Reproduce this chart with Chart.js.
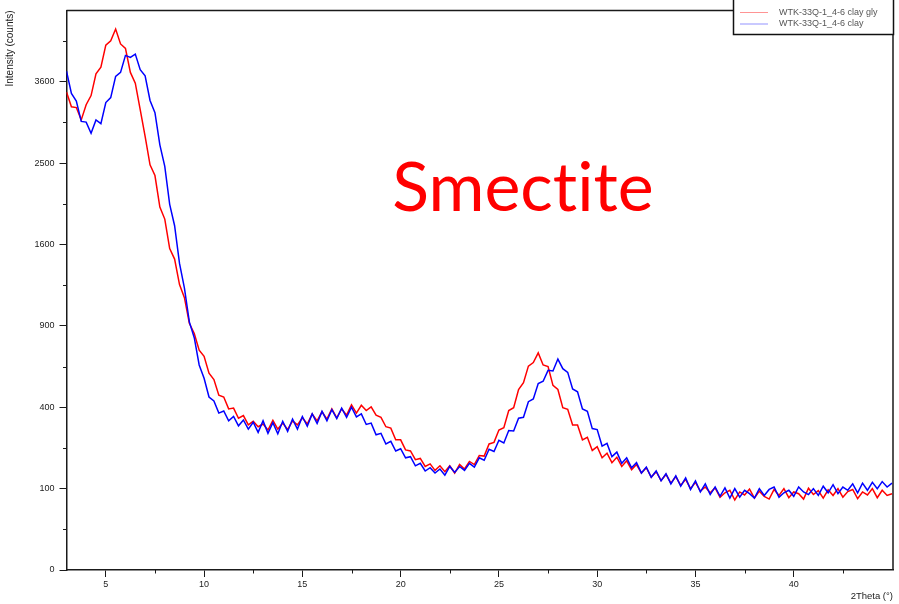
<!DOCTYPE html>
<html><head><meta charset="utf-8">
<script src="https://cdn.jsdelivr.net/npm/chart.js@4/dist/chart.umd.min.js"></script>
<style>
html,body{margin:0;padding:0;background:#fff;}
#wrap{position:relative;width:899px;height:604px;}
#note{position:absolute;left:323px;top:151px;width:400px;text-align:center;font-family:Lato,'Open Sans',sans-serif;font-size:68px;line-height:68px;color:#ff0000;font-variant-ligatures:none;font-feature-settings:"liga" 0,"dlig" 0;white-space:nowrap;pointer-events:none;}
</style>
</head><body><div id="wrap"><canvas id="c" width="899" height="604"></canvas><div id="note"></div></div>
<script>
// ---- data ----
const twoTheta = [
3.00,3.25,3.50,3.75, 4.00,4.25,4.50,4.75, 5.00,5.25,5.50,5.75, 6.00,6.25,6.50,6.75,
7.00,7.25,7.50,7.75, 8.00,8.25,8.50,8.75, 9.00,9.25,9.50,9.75, 10.00,10.25,10.50,10.75,
11.00,11.25,11.50,11.75, 12.00,12.25,12.50,12.75, 13.00,13.25,13.50,13.75, 14.00,14.25,14.50,14.75,
15.00,15.25,15.50,15.75, 16.00,16.25,16.50,16.75, 17.00,17.25,17.50,17.75, 18.00,18.25,18.50,18.75,
19.00,19.25,19.50,19.75, 20.00,20.25,20.50,20.75, 21.00,21.25,21.50,21.75, 22.00,22.25,22.50,22.75,
23.00,23.25,23.50,23.75, 24.00,24.25,24.50,24.75, 25.00,25.25,25.50,25.75, 26.00,26.25,26.50,26.75,
27.00,27.25,27.50,27.75, 28.00,28.25,28.50,28.75, 29.00,29.25,29.50,29.75, 30.00,30.25,30.50,30.75,
31.00,31.25,31.50,31.75, 32.00,32.25,32.50,32.75, 33.00,33.25,33.50,33.75, 34.00,34.25,34.50,34.75,
35.00,35.25,35.50,35.75, 36.00,36.25,36.50,36.75, 37.00,37.25,37.50,37.75, 38.00,38.25,38.50,38.75,
39.00,39.25,39.50,39.75, 40.00,40.25,40.50,40.75, 41.00,41.25,41.50,41.75, 42.00,42.25,42.50,42.75,
43.00,43.25,43.50,43.75, 44.00,44.25,44.50,44.75, 45.00
];
const glyCounts = [
3450,3240,3230,3060, 3270,3400,3720,3820, 4160,4230,4420,4180, 4110,3740,3580,3200,
2840,2480,2350,1990, 1860,1560,1460,1230, 1120,920,845,730, 690,585,548,462,
452,392,396,348, 360,318,334,310, 322,296,338,300, 326,298,336,318,
350,322,368,336, 378,344,392,350, 392,362,412,372, 410,384,402,362,
352,310,304,256, 256,218,214,184, 188,162,170,150, 164,146,164,142,
168,154,178,168, 198,196,240,246, 296,306,384,398, 492,530,628,650,
712,635,625,515, 492,398,390,318, 318,256,266,216, 230,190,206,174,
192,162,180,152, 168,142,158,130, 146,121,138,114, 132,108,124,100,
116,94,104,90, 102,80,90,96, 74,92,85,99, 78,94,82,76,
98,84,100,79, 92,88,76,101, 86,95,78,97, 84,100,80,93,
98,77,92,85, 100,79,96,84, 88
];
const clayCounts = [
3760,3430,3320,3040, 3030,2880,3060,3010, 3300,3370,3680,3740, 4000,3970,4020,3780,
3690,3330,3160,2730, 2460,2020,1790,1420, 1200,930,815,635, 555,452,432,372,
382,336,356,314, 340,300,330,286, 336,282,328,280, 334,290,344,300,
356,312,368,324, 380,336,388,346, 396,352,400,354, 368,320,326,276,
282,240,250,214, 222,190,194,164, 172,148,158,142, 154,136,162,144,
162,150,172,160, 190,182,220,212, 254,244,294,292, 348,352,428,442,
525,538,602,598, 672,612,590,495, 480,392,380,302, 298,232,242,194,
210,172,190,158, 174,142,160,130, 148,120,140,112, 134,106,128,98,
120,92,112,86, 104,82,102,78, 100,80,96,88, 78,100,84,98,
104,80,90,96, 82,104,92,86, 100,84,106,90, 110,88,104,96,
112,90,114,96, 116,100,118,104, 114
];
const seriesLabels = ['WTK-33Q-1_4-6 clay gly', 'WTK-33Q-1_4-6 clay'];
const xTickValues = [5, 10, 15, 20, 25, 30, 35, 40];
const xMinorTicks = [7.5, 12.5, 17.5, 22.5, 27.5, 32.5, 37.5, 42.5];
const yTickValues = [0, 100, 400, 900, 1600, 2500, 3600];
const yMinorTicks = [25, 225, 625, 1225, 2025, 3025, 4225];
const annotationText = 'Smectite';

document.getElementById('note').textContent = annotationText;

// ---- square-root scale ----
class SqrtScale extends Chart.Scale {
  determineDataLimits() {
    const mm = this.getMinMax(true);
    this.min = (this.options.min !== undefined) ? this.options.min : mm.min;
    this.max = (this.options.max !== undefined) ? this.options.max : mm.max;
  }
  buildTicks() { return yTickValues.map(v => ({ value: v })); }
  getLabelForValue(v) { return String(v); }
  configure() {
    super.configure();
    this._s0 = Math.sqrt(this.min);
    this._sr = Math.sqrt(this.max) - this._s0;
  }
  getPixelForValue(v) {
    if (v === undefined || v === null || isNaN(v)) return NaN;
    return this.getPixelForDecimal((Math.sqrt(Math.max(v, 0)) - this._s0) / this._sr);
  }
  getValueForPixel(p) {
    const s = this._s0 + this.getDecimalForPixel(p) * this._sr;
    return s * s;
  }
}
SqrtScale.id = 'sqrt';
SqrtScale.defaults = {};
Chart.register(SqrtScale);

const FONT = "'Liberation Sans', Arial, sans-serif";

const extrasPlugin = {
  id: 'extras',
  afterDraw(chart) {
    const ctx = chart.ctx, a = chart.chartArea;
    const xs = chart.scales.x, ys = chart.scales.y;
    ctx.save();
    ctx.strokeStyle = '#1a1a1a'; ctx.lineWidth = 1.5;
    ctx.beginPath();
    ctx.moveTo(a.left, a.top); ctx.lineTo(a.right, a.top); ctx.lineTo(a.right, a.bottom);
    ctx.stroke();
    ctx.lineWidth = 1;
    ctx.beginPath();
    xMinorTicks.forEach(v => { const px = Math.round(xs.getPixelForValue(v)) + 0.5; ctx.moveTo(px, a.bottom); ctx.lineTo(px, a.bottom + 3.5); });
    yMinorTicks.forEach(v => { const py = Math.round(ys.getPixelForValue(v)) + 0.5; ctx.moveTo(a.left, py); ctx.lineTo(a.left - 3.5, py); });
    ctx.stroke();
    const bx = 733.5, by = -2, bw = 160, bh = 36.5;
    ctx.fillStyle = '#ffffff'; ctx.fillRect(bx, by, bw, bh);
    ctx.strokeStyle = '#111'; ctx.lineWidth = 1.5; ctx.strokeRect(bx, by, bw, bh);
    ctx.font = '9px ' + FONT; ctx.textAlign = 'left'; ctx.textBaseline = 'middle';
    chart.data.datasets.forEach((ds, i) => {
      const y = 12.5 + i * 11.5;
      ctx.strokeStyle = ds.legendColor; ctx.lineWidth = 1;
      ctx.beginPath(); ctx.moveTo(740, y); ctx.lineTo(768, y); ctx.stroke();
      ctx.fillStyle = '#555'; ctx.fillText(ds.label, 779, y);
    });
    ctx.restore();
  }
};

const toPoints = arr => twoTheta.map((x, i) => ({ x: x, y: arr[i] }));

new Chart(document.getElementById('c'), {
  type: 'line',
  data: {
    datasets: [
      { label: seriesLabels[0], data: toPoints(glyCounts), borderColor: '#ff0000', legendColor: 'rgba(255,60,60,0.55)', borderWidth: 1.5, pointRadius: 0, tension: 0, order: 1 },
      { label: seriesLabels[1], data: toPoints(clayCounts), borderColor: '#0000ff', legendColor: 'rgba(60,60,255,0.55)', borderWidth: 1.5, pointRadius: 0, tension: 0, order: 0 }
    ]
  },
  options: {
    responsive: false, animation: false, devicePixelRatio: 1,
    layout: { padding: { top: 7, right: 6, bottom: 0, left: 0 } },
    plugins: { legend: { display: false }, tooltip: { enabled: false } },
    scales: {
      x: {
        type: 'linear', min: 3, max: 45.05,
        afterBuildTicks: axis => { axis.ticks = xTickValues.map(v => ({ value: v })); },
        afterFit: s => { s.height = 34; },
        grid: { display: true, drawOnChartArea: false, drawTicks: true, tickLength: 7, tickColor: '#1a1a1a', tickWidth: 1 },
        border: { display: true, color: '#1a1a1a', width: 1.5 },
        ticks: { color: '#222', font: { family: FONT, size: 9 }, padding: 2, maxRotation: 0, autoSkip: false },
        title: { display: true, text: '2Theta (°)', align: 'end', color: '#222', font: { family: FONT, size: 9.5 }, padding: { top: 2, bottom: 2 } }
      },
      y: {
        type: 'sqrt', min: 0, max: 4730,
        afterFit: s => { s.width = 66.5; },
        grid: { display: true, drawOnChartArea: false, drawTicks: true, tickLength: 7, tickColor: '#1a1a1a', tickWidth: 1 },
        border: { display: true, color: '#1a1a1a', width: 1.5 },
        ticks: { color: '#222', font: { family: FONT, size: 9 }, padding: 5, autoSkip: false },
        title: { display: true, text: 'Intensity (counts)', align: 'end', color: '#222', font: { family: FONT, size: 10 }, padding: { top: 4, bottom: 4 } }
      }
    }
  },
  plugins: [extrasPlugin]
});
</script></body></html>
